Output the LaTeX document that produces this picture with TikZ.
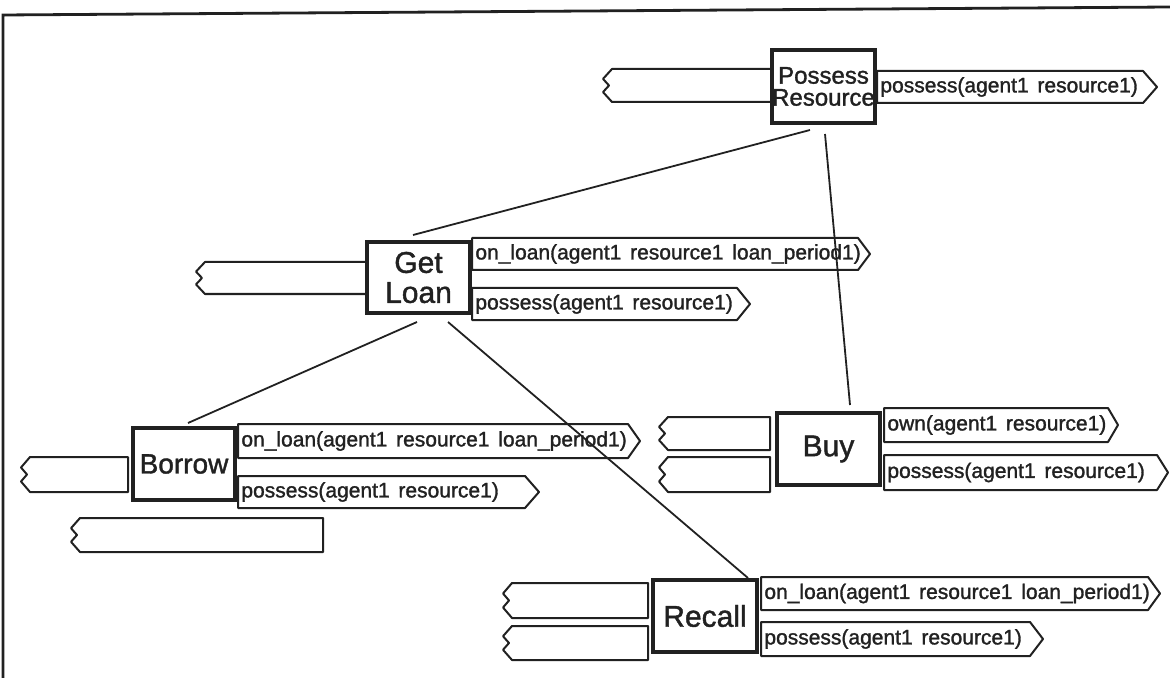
\documentclass[tikz,border=0pt]{standalone}
\usepackage{fontspec}
\setmainfont{Liberation Sans}
\newfontfamily\heavyfont[FakeBold=1.4]{Liberation Sans}
\definecolor{ink}{gray}{0.13}

% wide word gap used in the predicate labels
\newcommand\gap{\hspace{0.42em}}

% input slot: notched left end, closed on the right
\newcommand\inport[5]{% name, left x, top y, right x, bottom y
  \draw[port] (#4,#3) -- (#2,#3) -- ({#2-9},{#3+0.3*(#5-#3)})
    -- ({#2-3},{(#3+#5)/2}) -- ({#2-9},{#3+0.7*(#5-#3)})
    -- (#2,#5) -- (#4,#5) -- cycle;
  \coordinate (#1) at ({(#2+#4)/2},{(#3+#5)/2});
}
% output slot: pointed right end with its predicate text
\newcommand\outport[7]{% name, left x, top y, right x, bottom y, tip length, text
  \draw[port] (#2,#3) -- (#4,#3) -- ({#4+#6},{(#3+#5)/2})
    -- (#4,#5) -- (#2,#5) -- cycle;
  \node[porttext] (#1) at ({#2+3},{(#3+#5)/2}) {#7};
}

\tikzset{
  proc/.style={draw=ink, line width=2pt, rectangle, inner sep=0pt,
    align=center, text=ink},
  port/.style={draw=ink, line width=1pt, line join=round},
  porttext/.style={anchor=west, inner sep=0pt, text=ink,
    font=\heavyfont\fontsize{10.5}{12}\selectfont},
  link/.style={draw=ink, line width=0.9pt},
  frame/.style={draw=ink, line width=1.4pt}
}

\begin{document}
\begin{tikzpicture}[x=0.5pt,y=-0.5pt]
\useasboundingbox (0,0) rectangle (1170,678);

% page frame (top and left edges only)
\draw[frame] (1170,7) -- (3,15) -- (3,678);

% process boxes
\node[proc, minimum width=51.5pt, minimum height=36.5pt,
  font=\heavyfont\fontsize{12}{11}\selectfont] (pr) at (823.5,86.5) {Possess\\Resource};
\node[proc, minimum width=51.5pt, minimum height=35.5pt,
  font=\heavyfont\fontsize{15}{15}\selectfont] (gl) at (418.5,277.5) {Get\\Loan};
\node[proc, minimum width=51pt, minimum height=36pt,
  font=\heavyfont\fontsize{14}{16}\selectfont] (bo) at (184,464) {Borrow};
\node[proc, minimum width=51.5pt, minimum height=36pt,
  font=\heavyfont\fontsize{15}{17}\selectfont] (bu) at (828.5,449) {Buy};
\node[proc, minimum width=52pt, minimum height=36pt,
  font=\heavyfont\fontsize{15}{17}\selectfont] (re) at (705,616) {Recall};

% Possess Resource slots
\inport{pr-in}{612}{69}{772}{102}
\outport{pr-out}{877}{71}{1143}{103}{14}{possess(agent1\gap resource1)}

% Get Loan slots
\inport{gl-in}{205}{262}{367}{294}
\outport{gl-out1}{472}{238}{858}{270}{12}{on\_loan(agent1\gap resource1\gap loan\_period1)}
\outport{gl-out2}{472}{288}{737}{320}{13}{possess(agent1\gap resource1)}

% Borrow slots
\inport{bo-in1}{30}{457}{128}{492}
\inport{bo-in2}{80}{518}{323}{552}
\outport{bo-out1}{238}{424}{628}{458}{12}{on\_loan(agent1\gap resource1\gap loan\_period1)}
\outport{bo-out2}{238}{476}{525}{508}{14}{possess(agent1\gap resource1)}

% Buy slots
\inport{bu-in1}{668}{417}{770}{450}
\inport{bu-in2}{668}{457}{770}{492}
\outport{bu-out1}{884}{408}{1108}{442}{10}{own(agent1\gap resource1)}
\outport{bu-out2}{884}{455}{1157}{490}{11}{possess(agent1\gap resource1)}

% Recall slots
\inport{re-in1}{512}{583}{648}{618}
\inport{re-in2}{512}{626}{648}{660}
\outport{re-out1}{761}{577}{1148}{610}{12}{on\_loan(agent1\gap resource1\gap loan\_period1)}
\outport{re-out2}{761}{622}{1030}{656}{13}{possess(agent1\gap resource1)}

% decomposition links
\draw[link] ([shift={(-13.5,5)}]pr.south) -- ([shift={(-5.5,-5)}]gl.north);
\draw[link] ([shift={(1.5,9)}]pr.south) -- ([shift={(21.5,-6)}]bu.north);
\draw[link] ([shift={(-1.5,7)}]gl.south) -- ([shift={(4,-3)}]bo.north);
\draw[link] ([shift={(29.5,7)}]gl.south) -- ([shift={(43,0)}]re.north);
\end{tikzpicture}
\end{document}
